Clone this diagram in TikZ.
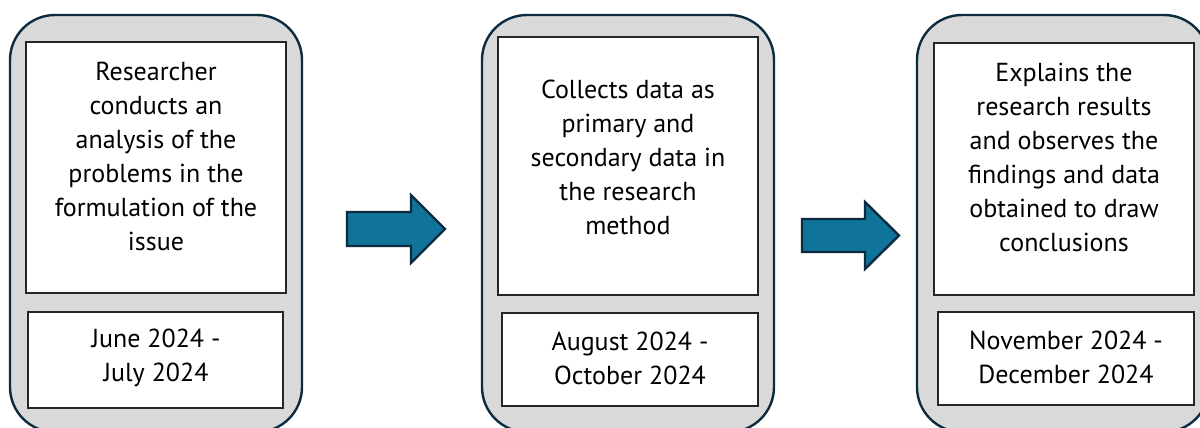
\documentclass[tikz,border=0pt]{standalone}
\usepackage{fontspec}
\setmainfont{PT Sans}
\definecolor{navy}{HTML}{0D2B3E}
\definecolor{panelgray}{HTML}{D9D9D9}
\definecolor{arrowblue}{HTML}{0F739A}
\definecolor{boxline}{HTML}{262626}
\tikzset{
  panel/.style={draw=navy, fill=panelgray, line width=2.4pt, rounded corners=45pt},
  whitebox/.style={draw=boxline, fill=white, line width=1.2pt},
  bodytext/.style={align=center, font=\fontsize{26}{34}\selectfont, inner sep=0pt},
  blockarrow/.style={draw=navy, fill=arrowblue, line width=2.4pt, line join=miter},
}
\begin{document}
\begin{tikzpicture}[x=1pt,y=-1pt]
\useasboundingbox (0,0) rectangle (1200,428);
\clip (0,0) rectangle (1200,428);
\fill[white] (0,0) rectangle (1200,428);
% panels
\draw[panel] (10,15) rectangle (302,432);
\draw[panel] (482,15) rectangle (774,432);
\draw[panel] (917,15) rectangle (1209,432);
% inner boxes
\draw[whitebox] (26,42) rectangle (286,293);
\draw[whitebox] (28,312) rectangle (283,408);
\draw[whitebox] (498,37) rectangle (758,295);
\draw[whitebox] (502,313) rectangle (758,406);
\draw[whitebox] (934,43) rectangle (1194,295);
\draw[whitebox] (938,312) rectangle (1194,405);
% texts
\node[bodytext] (t1) at (156,156) {Researcher\\conducts an\\analysis of the\\problems in the\\formulation of the\\issue};
\node[bodytext] (d1) at (156,358) {June 2024 -\\July 2024};
\node[bodytext] (t2) at (628,157) {Collects data as\\primary and\\secondary data in\\the research\\method};
\node[bodytext] (d2) at (630,358) {August 2024 -\\October 2024};
\node[bodytext] (t3) at (1064,157) {Explains the\\research results\\and observes the\\findings and data\\obtained to draw\\conclusions};
\node[bodytext] (d3) at (1066,357) {November 2024 -\\December 2024};
% arrows
\draw[blockarrow] (347,212) -- (411,212) -- (411,195) -- (445,229) -- (411,263) -- (411,246) -- (347,246) -- cycle;
\draw[blockarrow] (802,219) -- (865,219) -- (865,202) -- (899,235.5) -- (865,269) -- (865,252) -- (802,252) -- cycle;
\end{tikzpicture}
\end{document}
